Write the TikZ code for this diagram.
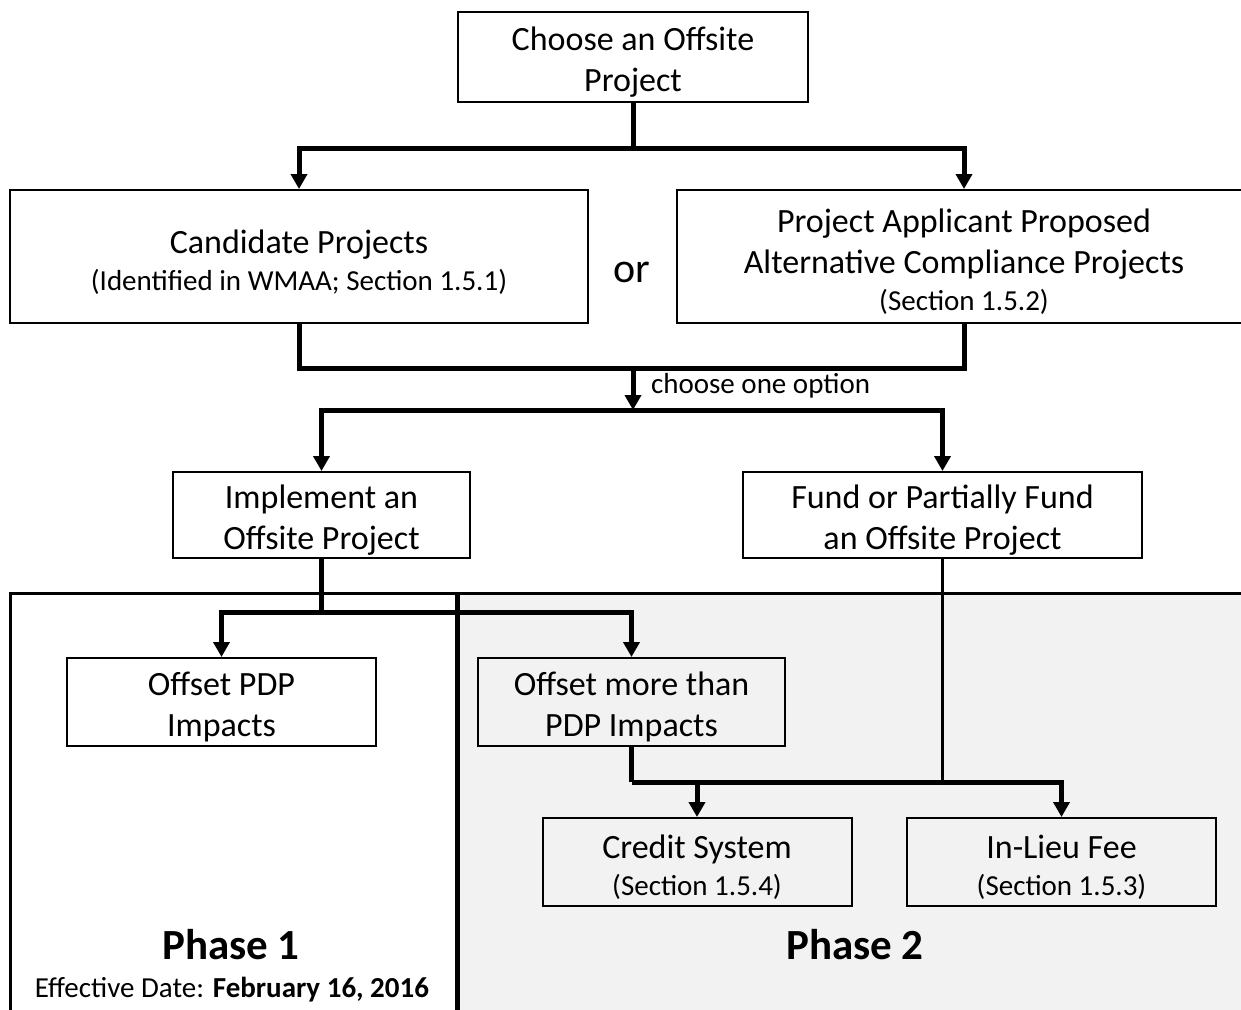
\documentclass[tikz,border=0pt]{standalone}
\usepackage{fontspec}
\setmainfont{Carlito}
\usepackage{xcolor}
\usetikzlibrary{arrows.meta,positioning,calc}
\definecolor{phasegray}{HTML}{F2F2F2}
\newcommand{\secnote}[1]{{\fontsize{14.5}{17}\selectfont #1}}
\newcommand{\topgap}{\rule{0pt}{17pt}}

\begin{document}
\begin{tikzpicture}[
    x=0.5pt, y=-0.5pt,
    every node/.style={font=\fontsize{17}{20.5}\selectfont, align=center},
    box/.style={draw, line width=1pt, inner sep=0pt},
    link/.style={line width=2.5pt},
    arrow/.style={link, -{Triangle[width=8pt,length=7.5pt]}},
]
    \useasboundingbox (0,0) rectangle (1241,1009);

    % phase panels
    \fill[phasegray] (457,593) rectangle (1260,1020);
    \draw[line width=1.5pt] (10,1020) -- (10,593) -- (1260,593);
    \draw[line width=2.5pt] (457,593) -- (457,1020);
    \node[font=\fontsize{21.5}{25}\selectfont\bfseries] (ph1) at (231,945) {Phase 1};
    \node[font=\fontsize{14.5}{17}\selectfont] (eff) at (232,990) {Effective Date: \textbf{February 16, 2016}};
    \node[font=\fontsize{21.5}{25}\selectfont\bfseries] (ph2) at (855,945) {Phase 2};

    % top box and the two project sources
    \node[box, minimum width=175pt, minimum height=45pt] (top) at (633,57) {\topgap Choose an Offsite\\Project};
    \node[box, minimum width=289pt, minimum height=66.5pt] (cand) at (299,256.5)
        {\topgap Candidate Projects\\[-2pt]\secnote{(Identified in WMAA; Section 1.5.1)}};
    \node[box, minimum width=287pt, minimum height=66.5pt] (apply) at (964,256.5)
        {\topgap Project Applicant Proposed\\Alternative Compliance Projects\\[-2pt]\secnote{(Section 1.5.2)}};
    \node[font=\fontsize{21}{24}\selectfont] (or) at (632,272) {or};

    \coordinate (j1) at (633,148);
    \draw[link] (top) -- (j1);
    \draw[arrow] (j1) -| (cand);
    \draw[arrow] (j1) -| (apply);

    % choose one option
    \coordinate (j2) at (633,368);
    \coordinate (j3) at (633,410);
    \draw[link] (cand) |- (j2) -| (apply);
    \draw[arrow] (j2) -- (j3);
    \node[font=\fontsize{14.5}{17}\selectfont, anchor=west] (opt) at (644,386) {choose one option};

    \node[box, minimum width=148.5pt, minimum height=43pt] (impl) at (321.5,515) {\topgap Implement an\\Offsite Project};
    \node[box, minimum width=199.5pt, minimum height=43pt] (fund) at (942.5,515) {\topgap Fund or Partially Fund\\an Offsite Project};
    \draw[arrow] (j3) -| (impl);
    \draw[arrow] (j3) -| (fund);

    % phase 1 / phase 2 outcomes
    \node[box, minimum width=154.5pt, minimum height=44pt] (opdp) at (221.5,702) {\topgap Offset PDP\\Impacts};
    \node[box, minimum width=153.5pt, minimum height=44pt] (omore) at (631.5,702) {\topgap Offset more than\\PDP Impacts};
    \coordinate (j4) at (321.5,612);
    \draw[link] (impl) -- (j4);
    \draw[arrow] (j4) -| (opdp);
    \draw[arrow] (j4) -| (omore);

    \node[box, minimum width=154.5pt, minimum height=44pt] (credit) at (697,862)
        {\topgap Credit System\\[-2pt]\secnote{(Section 1.5.4)}};
    \node[box, minimum width=154.5pt, minimum height=44pt] (inlieu) at (1061.5,862)
        {\topgap In-Lieu Fee\\[-2pt]\secnote{(Section 1.5.3)}};
    \coordinate (j5) at (631.5,782);
    \draw[link] (omore) -- (j5);
    \draw[line width=1.5pt] (fund) -- (fund |- j5);
    \draw[arrow] (j5) -| (credit);
    \draw[arrow] (j5) -| (inlieu);
\end{tikzpicture}
\end{document}
